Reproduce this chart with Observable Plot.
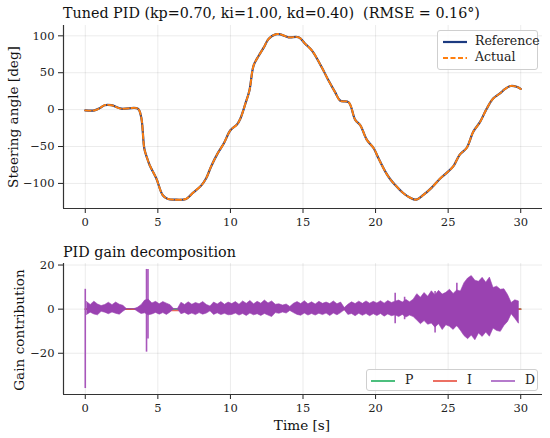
<!DOCTYPE html>
<html>
<head>
<meta charset="utf-8">
<script src="https://cdn.jsdelivr.net/npm/d3@7"></script>
<script src="https://cdn.jsdelivr.net/npm/@observablehq/plot@0.6"></script>
<style>
  html, body { margin: 0; padding: 0; background: #fff; }
  #wrap { position: relative; width: 550px; height: 438px; background: #fff; font-family: "DejaVu Serif", serif; color: #222; overflow: hidden; }
  #wrap > svg { position: absolute; left: 0; }
  .ttl { position: absolute; left: 63px; font-size: 14.3px; line-height: 18px; white-space: pre; color: #111; }
  .lab { position: absolute; font-size: 13.6px; line-height: 16px; white-space: nowrap; color: #111; transform: translate(-50%, -50%); }
  .lab.rot { transform: translate(-50%, -50%) rotate(-90deg); }
  .leg { position: absolute; border: 1px solid #cfcfcf; border-radius: 3px; background: rgba(255,255,255,0.85); font-size: 12.5px; color: #222; }
  .leg .row { position: absolute; white-space: nowrap; line-height: 16px; }
  .leg svg { vertical-align: middle; }
</style>
</head>
<body>
<div id="wrap"></div>
<script>
// ---- Top panel: reference steering angle (actual overlaps it, RMSE 0.16°)
const refT = [0, 0.64, 1.0, 1.33, 1.8, 2.48, 3.62, 3.85, 4.07, 4.25, 4.43, 4.89, 5.34, 5.69, 6.15, 6.95, 7.4, 7.98, 8.33, 8.67, 9.13, 9.54, 10.0, 10.46, 10.69, 11.03, 11.31, 11.6, 11.95, 12.29, 12.64, 13.1, 13.44, 14.01, 14.7, 15.16, 15.62, 16.3, 16.77, 17.2, 17.57, 18.14, 18.6, 18.94, 19.4, 19.86, 20.2, 20.67, 21.0, 21.3, 21.9, 22.35, 22.8, 23.27, 23.85, 24.42, 24.88, 25.35, 25.8, 26.27, 26.73, 27.19, 27.65, 28.1, 28.57, 28.92, 29.3, 29.72, 30.0];
const refV = [-1, -1, 2, 6, 6, 1.3, 1.3, -10, -53, -65, -75, -93, -116, -121, -122, -121, -113, -103, -93, -77, -59, -46, -28, -20, -12, 8, 26, 60, 73, 84, 96, 102, 102, 98, 98, 89, 80, 57, 39, 24, 12, 10, -14, -21, -41, -52, -66, -84, -94, -101, -113, -119, -122, -116, -106, -94, -86, -77, -61, -52, -30, -17, 1, 15, 22, 28, 32, 31, 28];
const actV = [-1, -1, 2, 6, 6, 1.3, 1.3, -10, -53, -65, -75, -93, -116, -121, -122, -121, -113, -103, -93, -77, -59, -46, -28, -20, -12, 8, 26, 60, 73, 84, 96, 102, 102, 98, 98, 89, 80, 57, 39, 24, 12, 10, -14, -21, -41, -52, -66, -84, -94, -101, -113, -119, -122, -116, -106, -94, -86, -77, -61, -52, -30, -17, 1, 15, 22, 28, 32, 31, 28];
const xTicks = [0, 5, 10, 15, 20, 25, 30];
const yTicksTop = [-100, -50, 0, 50, 100];
const yTicksBot = [-20, 0, 20];

// ---- Bottom panel: P and I terms (near zero)
const pT = [0, 3.6, 3.7, 3.8, 3.9, 6.1, 6.3, 6.5, 14.2, 17.8, 30];
const pV = [0, 0, 0.3, -0.3, 0.1, 0, 0, 0, 0, 0, 0];
const iT = [0, 2.7, 3.6, 6.0, 6.5, 8.6, 14.2, 17.8, 30];
const iV = [0, 0, 0, -0.6, -0.6, -0.3, 0.2, -0.1, 0];

// D term: min/max envelope per 0.25 s bin
const dT = [0.125,0.375,0.625,0.875,1.125,1.375,1.625,1.875,2.125,2.375,2.625,2.875,3.125,3.375,3.625,3.875,4.125,4.375,4.625,4.875,5.125,5.375,5.625,5.875,6.125,6.375,6.625,6.875,7.125,7.375,7.625,7.875,8.125,8.375,8.625,8.875,9.125,9.375,9.625,9.875,10.125,10.375,10.625,10.875,11.125,11.375,11.625,11.875,12.125,12.375,12.625,12.875,13.125,13.375,13.625,13.875,14.125,14.375,14.625,14.875,15.125,15.375,15.625,15.875,16.125,16.375,16.625,16.875,17.125,17.375,17.625,17.875,18.125,18.375,18.625,18.875,19.125,19.375,19.625,19.875,20.125,20.375,20.625,20.875,21.125,21.375,21.625,21.875,22.125,22.375,22.625,22.875,23.125,23.375,23.625,23.875,24.125,24.375,24.625,24.875,25.125,25.375,25.625,25.875,26.125,26.375,26.625,26.875,27.125,27.375,27.625,27.875,28.125,28.375,28.625,28.875,29.125,29.375,29.625,29.875];
const dHi = [3.2,1.9,3.4,2.1,1.4,1.9,2.9,1.8,3.0,2.0,1.5, 0,0,0, 0.6,1.8,3.9,4.3,2.6,3.3,2.2,3.2,2.5,1.8, 0,0, 2.9,1.9,3.1,2.0,2.8,2.2,3.2,1.9,1.2,3.0,2.1,3.2,2.0,3.0, 2.3,3.2,2.0,3.5,2.4,3.7,2.2,3.3,2.5,3.9,2.6,3.5,2.0,2.2,1.6,2.1, 1.0, 2.4,3.2,2.3,3.6,2.2,3.1,2.1,3.3,2.4,3.0,2.3,3.5,2.2,3.0, 0.5, 2.0,3.1,2.3,3.4,2.4,3.5,2.5,3.3,2.6,3.6,2.5,3.7,2.8,3.4,3.9,3.0,4.2,3.1,4.3, 6.8,5.2,7.3,5.6,8.1,6.3,8.3,6.6,7.4,8.8,6.9,8.5,8.0, 11.8,13.9,15.0,12.9,12.4,14.2,12.0,14.3,9.6,10.2,8.8,9.0, 6.4,2.8,4.0,3.5];
const dLo = [-2.6,-1.6,-2.4,-2.8,-1.2,-1.6,-2.3,-1.5,-2.1,-2.5,-1.2, 0,0,0, -1.2,-2.2,-1.9,-2.8,-2.4,-1.7,-2.5,-1.8,-2.6,-1.5, 0,0, -2.3,-1.7,-2.6,-2.0,-2.7,-1.8,-2.5,-2.0,-1.0,-2.6,-1.9,-2.7,-2.1,-2.8, -2.6,-2.0,-2.9,-2.2,-3.1,-2.0,-2.8,-2.3,-3.1,-2.2,-2.9,-3.6,-1.8,-2.1,-1.5,-2.0, -0.8, -1.8,-2.6,-3.0,-2.0,-2.9,-2.2,-2.9,-2.1,-2.7,-2.0,-3.1,-2.0,-2.8,-1.8, -0.5, -2.6,-2.2,-3.2,-2.1,-3.0,-2.2,-3.2,-2.3,-3.1,-2.2,-3.4,-2.4,-3.2,-2.8,-3.6,-2.6,-3.8,-2.9,-3.6, -5.2,-6.8,-5.4,-7.1,-6.5,-8.4,-6.8,-9.5,-7.3,-8.0,-9.4,-7.6,-9.8, -12.2,-13.6,-12.0,-14.1,-11.0,-12.6,-10.6,-12.5,-8.8,-9.9,-10.3,-7.6, -5.8,-2.3,-4.4,-6.6];
// isolated D spikes
const spT = [0.0, 4.22, 4.32, 21.35, 22.0, 24.1, 25.6];
const spLo = [-36, -19.5, -13.5, -6.6, -4.8, -10.8, -8.0];
const spHi = [9, 18, 18, 7.2, 5.4, 8.0, 11.7];

const ref = refT.map((t, i) => ({t, v: refV[i]}));
const act = refT.map((t, i) => ({t, v: actV[i]}));
const P = pT.map((t, i) => ({t, v: pV[i]}));
const I = iT.map((t, i) => ({t, v: iV[i]}));
const D = dT.map((t, i) => ({t, lo: dLo[i], hi: dHi[i]}));
const S = spT.map((t, i) => ({t, lo: spLo[i], hi: spHi[i]}));

const C = {ref: "#1c3a80", act: "#ff7f0e", P: "#27ae60", I: "#e74c3c", D: "#9a42b1"};
const xDom = [-1.5, 31.5];
const gridStroke = "#000";
const baseStyle = {fontFamily: "DejaVu Serif", fontSize: "11.5px", color: "#222", background: "transparent", overflow: "visible"};

const topPlot = Plot.plot({
  width: 550, height: 230,
  marginLeft: 63, marginRight: 8, marginTop: 25, marginBottom: 22,
  style: baseStyle,
  x: {domain: xDom},
  y: {domain: [-134, 114]},
  marks: [
    Plot.gridX(xTicks, {stroke: gridStroke, strokeOpacity: 0.08}),
    Plot.gridY(yTicksTop, {stroke: gridStroke, strokeOpacity: 0.08}),
    Plot.axisX({ticks: xTicks, tickSize: 5, tickPadding: 4, label: null}),
    Plot.axisY({ticks: yTicksTop, tickSize: 5, tickPadding: 4, label: null}),
    Plot.ruleX([xDom[0]], {stroke: "#333", strokeWidth: 1.2}),
    Plot.ruleY([-134], {stroke: "#333", strokeWidth: 1.2}),
    Plot.line(ref, {x: "t", y: "v", stroke: C.ref, strokeWidth: 2.2, curve: "catmull-rom"}),
    Plot.line(act, {x: "t", y: "v", stroke: C.act, strokeWidth: 1.9, strokeDasharray: "5.5,2.5", curve: "catmull-rom"})
  ]
});
topPlot.style.top = "0px";

const botPlot = Plot.plot({
  width: 550, height: 208,
  marginLeft: 63, marginRight: 8, marginTop: 33, marginBottom: 44,
  style: baseStyle,
  x: {domain: xDom},
  y: {domain: [-38.7, 20.7]},
  marks: [
    Plot.gridX(xTicks, {stroke: gridStroke, strokeOpacity: 0.08}),
    Plot.gridY(yTicksBot, {stroke: gridStroke, strokeOpacity: 0.08}),
    Plot.axisX({ticks: xTicks, tickSize: 5, tickPadding: 4, label: null}),
    Plot.axisY({ticks: yTicksBot, tickSize: 5, tickPadding: 4, label: null}),
    Plot.ruleX([xDom[0]], {stroke: "#333", strokeWidth: 1.2}),
    Plot.ruleY([-38.7], {stroke: "#333", strokeWidth: 1.2}),
    Plot.line(P, {x: "t", y: "v", stroke: C.P, strokeWidth: 1.6, strokeOpacity: 0.85}),
    Plot.line(I, {x: "t", y: "v", stroke: C.I, strokeWidth: 1.6, strokeOpacity: 0.85}),
    Plot.ruleX(S, {x: "t", y1: "lo", y2: "hi", stroke: "#a856bb", strokeWidth: 1.6}),
    Plot.areaY(D, {x: "t", y1: "lo", y2: "hi", fill: C.D, stroke: C.D, strokeWidth: 0.6, curve: "linear"})
  ]
});
botPlot.style.top = "230px";

const wrap = document.getElementById("wrap");
wrap.appendChild(topPlot);
wrap.appendChild(botPlot);

function addDiv(cls, css, html) {
  const d = document.createElement("div");
  d.className = cls;
  d.style.cssText = css;
  d.innerHTML = html;
  wrap.appendChild(d);
  return d;
}
addDiv("ttl", "top:4px;", "Tuned PID (kp=0.70, ki=1.00, kd=0.40)  (RMSE = 0.16°)");
addDiv("ttl", "top:243px;", "PID gain decomposition");
addDiv("lab rot", "left:13px;top:117px;", "Steering angle [deg]");
addDiv("lab rot", "left:19px;top:330px;", "Gain contribution");
addDiv("lab", "left:302px;top:425px;", "Time [s]");

function lineSvg(color, dash, w) {
  return `<svg width="24" height="6"><line x1="0" y1="3" x2="24" y2="3" stroke="${color}" stroke-width="${w}" ${dash ? `stroke-dasharray="${dash}"` : ""}/></svg>`;
}
const l1 = addDiv("leg", "left:437px;top:30px;width:99px;height:38px;", "");
l1.innerHTML =
  `<div class="row" style="left:5px;top:2px;">${lineSvg(C.ref, null, 2.2)}<span style="margin-left:8px">Reference</span></div>` +
  `<div class="row" style="left:5px;top:18px;">${lineSvg(C.act, "5,2.5", 1.9)}<span style="margin-left:8px">Actual</span></div>`;
const l2 = addDiv("leg", "left:366px;top:369px;width:170px;height:20px;", "");
l2.innerHTML =
  `<div class="row" style="left:4px;top:2px;">${lineSvg("#4cbf7e", null, 2)}<span style="margin-left:10px">P</span></div>` +
  `<div class="row" style="left:66px;top:2px;">${lineSvg("#ec7063", null, 2)}<span style="margin-left:10px">I</span></div>` +
  `<div class="row" style="left:124px;top:2px;">${lineSvg("#b57bcc", null, 2)}<span style="margin-left:10px">D</span></div>`;
</script>
</body>
</html>
